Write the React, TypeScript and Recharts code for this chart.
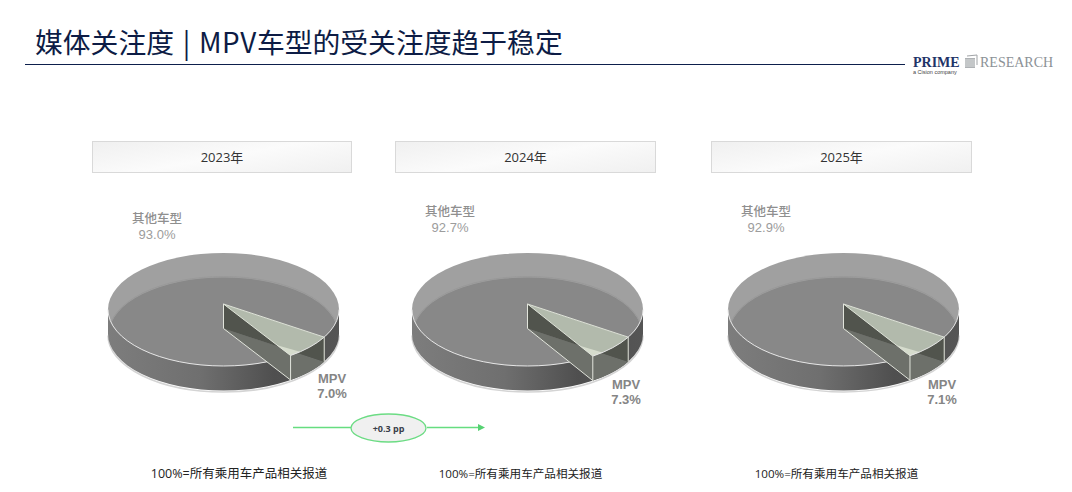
import { PieChart, Pie } from 'recharts';

const years = ['2023年', '2024年', '2025年'];
const otherShare = [93.0, 92.7, 92.9];
const mpvShare = [7.0, 7.3, 7.1];
const otherName = '其他车型';
const mpvName = 'MPV';
const footnote = '100%=所有乘用车产品相关报道';
const changeLabel = '+0.3 pp';
const titleHead = '媒体关注度 | ';
const titleModel = 'MPV';
const titleTail = '车型的受关注度趋于稳定';

const CJK = '"Noto Sans CJK SC", "Noto Sans", sans-serif';
const LATIN_CJK = '"Open Sans", "Noto Sans CJK SC", sans-serif';
const ARIAL_CJK = '"Liberation Sans", "Noto Sans CJK SC", sans-serif';

// layout per panel
const pieCx = [223.5, 527.5, 843.5];
const boxX = [92, 395, 711];
const boxW = [260, 261, 261];
const otherLabelX = [157, 450, 766];
const otherLabelY = [219, 212, 212];
const mpvLabelX = [332, 626, 942];
const mpvLabelY = [379, 385, 385];
const footX = [239, 520.5, 836.5];
const footSize = [12.5, 11.6, 11.6];

const PIE_CY = 309.5;
const RX = 115.5;
const RY = 56.5;
const DEPTH = 24.5;
const APEX_LIFT = 5.5;
const MPV_ANCHOR = -29.3;

const pt = (cx: number, cy: number, deg: number) => {
  const a = (deg * Math.PI) / 180;
  return { x: cx + RX * Math.cos(a), y: cy - RY * Math.sin(a) };
};

const arc = (p: { x: number; y: number }, large: number, sweep: number) =>
  `A${RX} ${RY} 0 ${large} ${sweep} ${p.x} ${p.y}`;

function OtherShape(props: any) {
  const { cx, cy, startAngle, endAngle } = props;
  const id = `cup-${Math.round(cx)}`;
  const s = pt(cx, cy, startAngle);
  const e = pt(cx, cy, endAngle);
  const apexY = cy - APEX_LIFT;
  const large = Math.abs(endAngle - startAngle) > 180 ? 1 : 0;
  const sweep = endAngle < startAngle ? 1 : 0;
  const floorWedge = `M${cx} ${apexY}L${s.x} ${s.y}${arc(e, large, sweep)}Z`;
  const left = { x: cx - RX, y: cy };
  const right = { x: cx + RX, y: cy };
  const body = `M${left.x} ${cy}L${left.x} ${cy + DEPTH}${arc({ x: right.x, y: cy + DEPTH }, 0, 0)}L${right.x} ${cy}Z`;
  return (
    <g>
      <defs>
        <linearGradient id={`${id}-wall`} x1="0" x2="1" y1="0" y2="0">
          <stop offset="0%" stopColor="#7d7d7d" />
          <stop offset="40%" stopColor="#6f6f6f" />
          <stop offset="72%" stopColor="#4f4f4f" />
          <stop offset="100%" stopColor="#555555" />
        </linearGradient>
        <clipPath id={`${id}-floor`}>
          <ellipse cx={cx} cy={cy + DEPTH} rx={RX - 1} ry={RY} />
        </clipPath>
        <clipPath id={`${id}-rim`}>
          <ellipse cx={cx} cy={cy} rx={RX} ry={RY} />
        </clipPath>
      </defs>
      <path d={`M${left.x} ${cy + DEPTH + 1.5}${arc({ x: right.x, y: cy + DEPTH + 1.5 }, 0, 0)}`} fill="none" stroke="#d4d4d4" strokeWidth={1.5} />
      <path d={body} fill={`url(#${id}-wall)`} />
      <ellipse cx={cx} cy={cy} rx={RX} ry={RY} fill="#a0a0a0" />
      <path d={floorWedge} fill="#888888" clipPath={`url(#${id}-floor)`} />
      <ellipse cx={cx} cy={cy + DEPTH - 1} rx={RX - 1} ry={RY} fill="none" stroke="#999999" strokeWidth={1} clipPath={`url(#${id}-rim)`} />
      <path d={`M${left.x} ${cy}${arc(right, 0, 0)}`} fill="none" stroke="#e6e6e6" strokeWidth={1} />
    </g>
  );
}

function MpvShape(props: any) {
  const { cx, cy, startAngle, endAngle } = props;
  const b = pt(cx, cy, startAngle);
  const c = pt(cx, cy, endAngle);
  const a = { x: cx, y: cy - APEX_LIFT };
  const a2 = { x: cx, y: a.y + DEPTH };
  const b2 = { x: b.x, y: b.y + DEPTH };
  const c2 = { x: c.x, y: c.y + DEPTH };
  const glintArc = pt(cx, cy, endAngle + 6);
  const glintLine = { x: c.x + (a.x - c.x) * 0.2, y: c.y + (a.y - c.y) * 0.2 };
  const edge = '#e2e5dc';
  return (
    <g>
      <path d={`M${a2.x} ${a2.y}L${b2.x} ${b2.y}${arc(c2, 0, 1)}Z`} fill="#6d706a" />
      <path d={`M${a.x} ${a.y}L${b.x} ${b.y}L${b2.x} ${b2.y}L${a2.x} ${a2.y}Z`} fill="#51544d" />
      <path d={`M${a.x} ${a.y}L${b.x} ${b.y}${arc(c, 0, 1)}Z`} fill="#b2baac" />
      <path d={`M${glintLine.x} ${glintLine.y}L${glintArc.x} ${glintArc.y}${arc(c, 0, 1)}Z`} fill="#d6dccd" />
      <path d={`M${b.x} ${b.y}L${a.x} ${a.y}L${c.x} ${c.y}`} fill="none" stroke="#dfe3d9" strokeWidth={1} />
      <path d={`M${a.x} ${a.y}L${a2.x} ${a2.y}L${c2.x} ${c2.y}L${c.x} ${c.y}`} fill="none" stroke={edge} strokeWidth={1} />
      <path d={`M${b.x} ${b.y}L${b2.x} ${b2.y}`} fill="none" stroke={edge} strokeWidth={1} />
      <path d={`M${b.x} ${b.y}${arc(c, 0, 1)}`} fill="none" stroke="#e6e6e6" strokeWidth={1} />
    </g>
  );
}

function PieShape(props: any) {
  return props.name === mpvName ? <MpvShape {...props} /> : <OtherShape {...props} />;
}

const abs = (left: number, top: number, extra: any = {}): any => ({
  position: 'absolute',
  left,
  top,
  whiteSpace: 'pre',
  ...extra,
});

const centered = (x: number, y: number, extra: any = {}) =>
  abs(x - 100, y, { width: 200, textAlign: 'center', ...extra });

export default function App() {
  return (
    <div style={{ position: 'fixed', left: 0, top: 0, width: 1072, height: 492, background: '#fff', overflow: 'hidden' }}>
      <div style={abs(35, 21, { fontFamily: CJK, fontSize: 27.8, lineHeight: '40px', color: '#0d1c45', wordSpacing: 2.5 })}>
        {titleHead}
        <span style={{ letterSpacing: 0.6 }}>{titleModel}</span>
        {titleTail}
      </div>
      <div style={abs(25, 64, { width: 880, height: 1, background: '#0d1f4c' })} />

      <div style={abs(913, 54, { fontFamily: '"Liberation Serif", serif', fontWeight: 700, fontSize: 14, lineHeight: '18px', color: '#1f3468' })}>PRIME</div>
      <div style={abs(980, 54, { fontFamily: '"Liberation Serif", serif', fontSize: 14, lineHeight: '18px', color: '#8b9196' })}>RESEARCH</div>
      <div style={abs(913, 69, { fontFamily: '"Liberation Sans", sans-serif', fontSize: 5.5, lineHeight: '7px', color: '#444' })}>a Cision company</div>
      <svg style={abs(964, 54)} width={14} height={15}>
        <path d="M1 4h10v10H1z" fill="#aeb1b4" />
        <path d="M3 2l10-1v10" fill="none" stroke="#a0a3a6" />
        <path d="M1 6h10M1 8h10M1 10h10M1 12h10" stroke="#e6e8e9" strokeWidth={0.8} />
      </svg>

      {years.map((y, i) => (
        <div
          key={y}
          style={abs(boxX[i], 141, {
            width: boxW[i] - 2,
            height: 30,
            border: '1px solid #d9d9d9',
            background: 'linear-gradient(170deg, #f0f0f0 0%, #fbfbfb 50%, #f0f0f0 100%)',
            textAlign: 'center',
            lineHeight: '30px',
            fontFamily: LATIN_CJK,
            fontSize: 13,
            color: '#333',
          })}
        >
          {y}
        </div>
      ))}

      <div style={abs(0, 0)}>
        <PieChart width={1072} height={492} margin={{ top: 0, right: 0, bottom: 0, left: 0 }}>
          {years.map((y, i) => (
            <Pie
              key={y}
              data={[
                { name: otherName, value: otherShare[i] },
                { name: mpvName, value: mpvShare[i] },
              ]}
              dataKey="value"
              nameKey="name"
              cx={pieCx[i]}
              cy={PIE_CY}
              innerRadius={0}
              outerRadius={RX}
              startAngle={MPV_ANCHOR - mpvShare[i] * 3.6}
              endAngle={MPV_ANCHOR - mpvShare[i] * 3.6 - 360}
              paddingAngle={0}
              stroke="none"
              labelLine={false}
              label={false}
              shape={PieShape}
              isAnimationActive={false}
            />
          ))}
        </PieChart>
      </div>

      {years.map((y, i) => (
        <div key={`labels-${y}`}>
          <div style={centered(otherLabelX[i], otherLabelY[i] - 8, { fontFamily: ARIAL_CJK, fontWeight: 500, fontSize: 12.5, lineHeight: '16px', color: '#8f8f8f' })}>{otherName}</div>
          <div style={centered(otherLabelX[i], otherLabelY[i] + 8, { fontFamily: ARIAL_CJK, fontSize: 13, lineHeight: '16px', color: '#9c9c9c' })}>{otherShare[i].toFixed(1)}%</div>
          <div style={centered(mpvLabelX[i], mpvLabelY[i] - 8, { fontFamily: ARIAL_CJK, fontWeight: 700, fontSize: 13, lineHeight: '16px', color: '#858585' })}>{mpvName}</div>
          <div style={centered(mpvLabelX[i], mpvLabelY[i] + 7, { fontFamily: ARIAL_CJK, fontWeight: 700, fontSize: 13, lineHeight: '16px', color: '#858585' })}>{mpvShare[i].toFixed(1)}%</div>
          <div style={centered(footX[i], 466, { fontFamily: LATIN_CJK, fontSize: footSize[i], lineHeight: '16px', color: '#222' })}>{footnote}</div>
        </div>
      ))}

      <svg style={abs(285, 405)} width={210} height={46}>
        <path d="M8 22.5H66M142 22.5H194" stroke="#66dd80" strokeWidth={1.5} fill="none" />
        <path d="M200 22.5l-7-3.5v7z" fill="#56d272" />
        <ellipse cx={103.5} cy={23} rx={37.5} ry={14} fill="#f0f0f0" stroke="#6cdc84" strokeWidth={1.3} />
        <text x={103.5} y={26.5} textAnchor="middle" fontFamily={LATIN_CJK} fontWeight={700} fontSize={9} fill="#3a3f4a">{changeLabel}</text>
      </svg>
    </div>
  );
}
